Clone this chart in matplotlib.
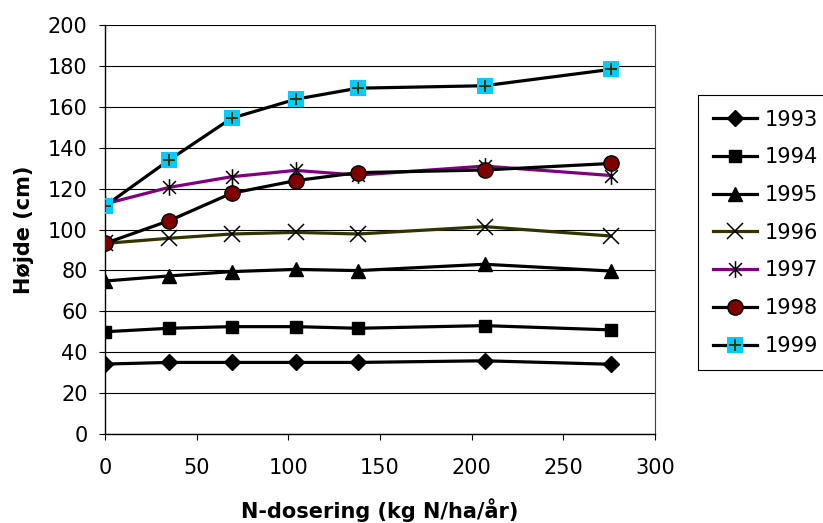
import matplotlib
matplotlib.use('Agg')
import matplotlib.pyplot as plt
from matplotlib.path import Path
from matplotlib.legend_handler import HandlerTuple

plt.rcParams['font.family'] = ['DejaVu Sans']

# N-dosering (kg N/ha/aar)
dose = [0, 35, 69, 104, 138, 207, 276]

years = ['1993', '1994', '1995', '1996', '1997', '1998', '1999']
h1993 = [34.2, 35.0, 35.0, 35.0, 35.0, 35.8, 34.1]
h1994 = [50.0, 51.7, 52.5, 52.5, 51.7, 53.0, 50.9]
h1995 = [74.8, 77.3, 79.4, 80.5, 79.9, 83.0, 79.7]
h1996 = [93.2, 95.7, 97.8, 98.6, 97.8, 101.4, 96.8]
h1997 = [112.5, 120.6, 125.8, 128.9, 126.6, 131.0, 126.4]
h1998 = [93.2, 104.3, 117.7, 123.9, 127.8, 129.1, 132.3]
h1999 = [111.5, 134.0, 154.4, 163.7, 169.1, 170.3, 178.3]
heights = [h1993, h1994, h1995, h1996, h1997, h1998, h1999]

# asterisk marker like Excel's star (X plus vertical bar)
star = Path([(-1, -1), (1, 1), (-1, 1), (1, -1), (0, -1.3), (0, 1.3)],
            [Path.MOVETO, Path.LINETO, Path.MOVETO, Path.LINETO, Path.MOVETO, Path.LINETO])

styles = [
    dict(color='black', marker='D', ms=8, mfc='black', mec='black'),
    dict(color='black', marker='s', ms=9, mfc='black', mec='black'),
    dict(color='black', marker='^', ms=10, mfc='black', mec='black'),
    dict(color='#333300', marker='x', ms=12, mfc='none', mec='black', mew=1.1),
    dict(color='#800080', marker=star, ms=12, mfc='none', mec='black', mew=1.1),
    dict(color='black', marker='o', ms=11, mfc='#800000', mec='black', mew=1.0),
    dict(color='black', marker='s', ms=11.5, mfc='#00CCFF', mec='#00CCFF', mew=0),
]

fig = plt.figure(figsize=(8.23, 5.23), dpi=100)
ax = fig.add_axes([105/823, 89/523, 550/823, 409/523])

handles = []
for i in range(len(years)):
    ln, = ax.plot(dose, heights[i], lw=2.3, **styles[i], zorder=3 + i)
    if years[i] == '1999':
        pl, = ax.plot(dose, heights[i], ls='none', marker='+', ms=9, mec='#333300',
                      mew=1.4, zorder=3 + i + 0.5)
        handles.append((ln, pl))
    else:
        handles.append(ln)

ax.set_xlim(0, 300)
ax.set_ylim(0, 200)
ax.set_xticks(range(0, 301, 50))
ax.set_yticks(range(0, 201, 20))
ax.yaxis.grid(True, color='black', lw=0.8)
ax.set_axisbelow(True)
ax.tick_params(axis='both', direction='out', length=4.5, width=0.8, labelsize=15, color='black')
ax.tick_params(axis='x', pad=13)
ax.tick_params(axis='y', pad=8)
ax.spines['top'].set_visible(False)
ax.spines['right'].set_color('#404040')
ax.spines['left'].set_linewidth(1.0)
ax.spines['bottom'].set_linewidth(1.0)

ax.set_xlabel('N-dosering (kg N/ha/år)', fontsize=15, fontweight='bold', labelpad=14)
ax.set_ylabel('Højde (cm)', fontsize=15, fontweight='bold', labelpad=10)

leg = fig.legend(handles, years, loc='upper left', bbox_to_anchor=(698/823, 1 - 95/523),
                 fontsize=15, frameon=True, fancybox=False, framealpha=1, edgecolor='black',
                 handlelength=2.15, labelspacing=0.85, handletextpad=0.35, borderpad=0.7,
                 borderaxespad=0, handler_map={tuple: HandlerTuple(ndivide=1)})
leg.get_frame().set_linewidth(0.8)

fig.savefig('out.png', dpi=100)
